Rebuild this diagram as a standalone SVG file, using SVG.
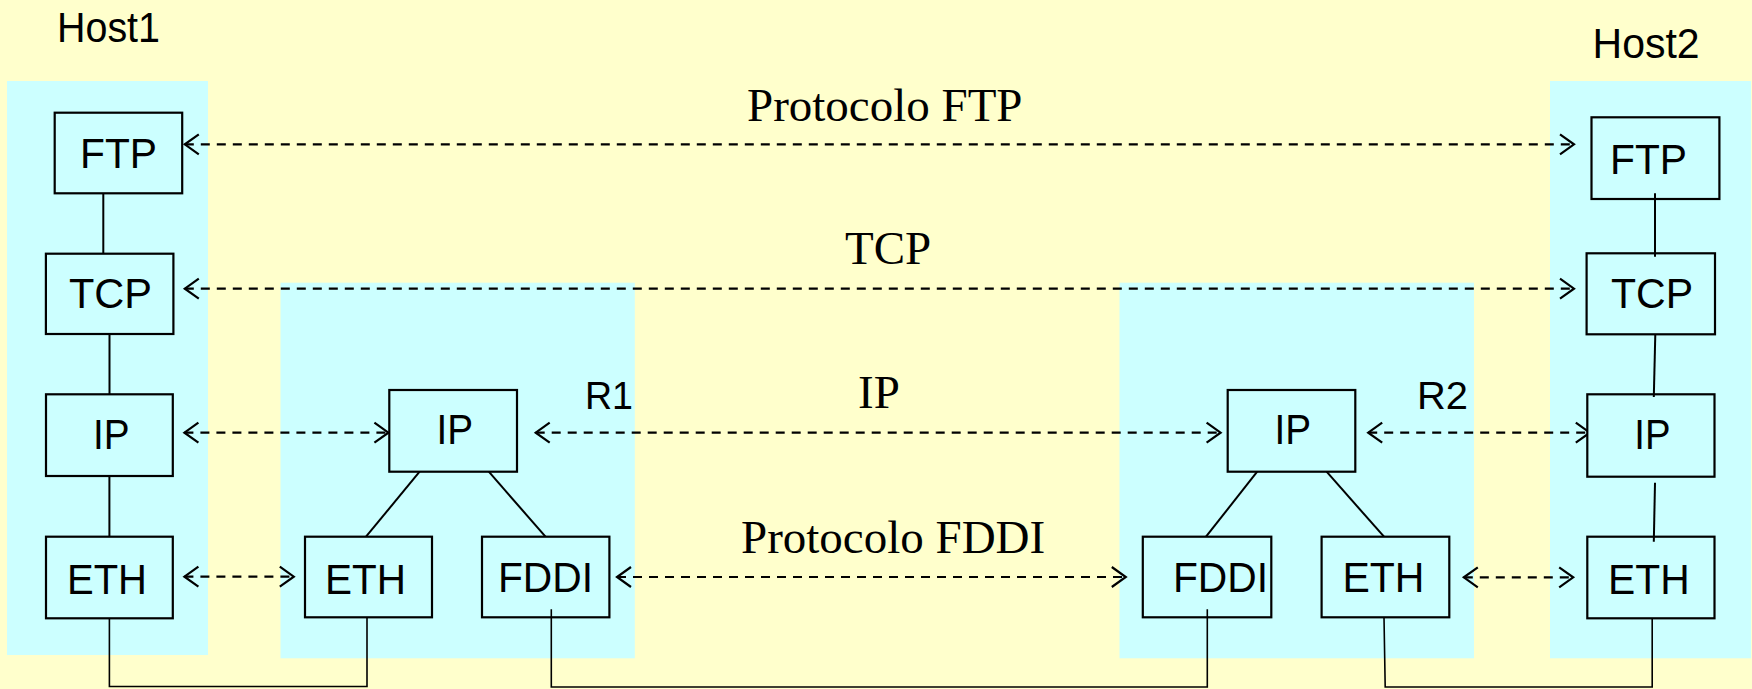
<svg xmlns="http://www.w3.org/2000/svg" width="1752" height="689" viewBox="0 0 1752 689">
<style>
.panel{fill:#CCFFFF;stroke:none}
.box{fill:#CCFFFF;stroke:#000;stroke-width:2.2}
.lbl{font-family:"Liberation Sans",Arial,sans-serif;font-size:42px;fill:#000}
.rl{font-family:"Liberation Sans",Arial,sans-serif;font-size:38px;fill:#000}
.pl{font-family:"Liberation Serif","Times New Roman",serif;font-size:47px;fill:#000}
.ln{fill:none;stroke:#000;stroke-width:2}
.bl{fill:none;stroke:#000;stroke-width:1.6}
.da{fill:none;stroke:#000;stroke-width:2.2;stroke-dasharray:9 7;marker-start:url(#ah);marker-end:url(#ah)}
</style>
<defs>
<marker id="ah" markerUnits="userSpaceOnUse" markerWidth="20" markerHeight="24" refX="0" refY="0" orient="auto-start-reverse" overflow="visible">
<path d="M-14,-10 L0,0 L-14,10" fill="none" stroke="#000" stroke-width="2.2"/>
</marker>
</defs>
<rect x="0" y="0" width="1752" height="689" fill="#FFFFCC"/>
<g id="panels">
<rect class="panel" x="7" y="81" width="201" height="574"/>
<rect class="panel" x="280.5" y="282.7" width="354.3" height="375.6"/>
<rect class="panel" x="1119.5" y="282.7" width="354.5" height="375.6"/>
<rect class="panel" x="1550" y="81" width="201" height="577.3"/>
</g>
<g id="labels">
<text class="lbl" x="57" y="42" textLength="103" lengthAdjust="spacingAndGlyphs">Host1</text>
<text class="lbl" x="1592.6" y="58.3" textLength="107" lengthAdjust="spacingAndGlyphs">Host2</text>
<text class="rl" x="585" y="409" textLength="48" lengthAdjust="spacingAndGlyphs">R1</text>
<text class="rl" x="1417" y="409" textLength="51" lengthAdjust="spacingAndGlyphs">R2</text>
<text class="pl" x="747" y="121">Protocolo FTP</text>
<text class="pl" x="845" y="264.3">TCP</text>
<text class="pl" x="858" y="408.3">IP</text>
<text class="pl" x="741" y="552.7">Protocolo FDDI</text>
</g>
<g id="connectors">
<line class="ln" x1="103.3" y1="193.3" x2="103.3" y2="253.7"/>
<line class="ln" x1="109.5" y1="334" x2="109.5" y2="394.3"/>
<line class="ln" x1="109.4" y1="476" x2="109.4" y2="536.7"/>
<line class="ln" x1="419.6" y1="471.7" x2="366" y2="536.7"/>
<line class="ln" x1="488.8" y1="471.7" x2="545.5" y2="536.7"/>
<line class="ln" x1="1257.2" y1="471.7" x2="1206" y2="536.7"/>
<line class="ln" x1="1326.6" y1="471.7" x2="1384" y2="536.7"/>
<polyline class="bl" points="109.4,618.3 109.4,686.5 367,686.5 367,617.3"/>
<polyline class="bl" points="1384,617.3 1385.2,687 1652.2,687 1652.2,618.3"/>
<path class="da" d="M184.8,144.3 H1574"/>
<path class="da" d="M184.8,288.7 H1574"/>
<path class="da" d="M184.4,432.7 H388.4"/>
<path class="da" d="M535.7,432.7 H1220.6"/>
<path class="da" d="M1368.2,432.7 H1589.8"/>
<path class="da" d="M184.4,576.7 H293.8"/>
<path class="da" d="M617,577 H1125.8"/>
<path class="da" d="M1463.8,577.3 H1573.2"/>
</g>
<g id="host1">
<g id="h1-ftp"><rect class="box" x="54.7" y="112.7" width="127.5" height="80.6"/><text class="lbl" x="80" y="167.7" textLength="77" lengthAdjust="spacingAndGlyphs">FTP</text></g>
<g id="h1-tcp"><rect class="box" x="45.9" y="253.7" width="127.5" height="80.3"/><text class="lbl" x="69" y="308" textLength="83" lengthAdjust="spacingAndGlyphs">TCP</text></g>
<g id="h1-ip"><rect class="box" x="46" y="394.3" width="126.8" height="81.7"/><text class="lbl" x="93" y="449" textLength="36.6" lengthAdjust="spacingAndGlyphs">IP</text></g>
<g id="h1-eth"><rect class="box" x="46" y="536.7" width="126.8" height="81.6"/><text class="lbl" x="67" y="594" textLength="80" lengthAdjust="spacingAndGlyphs">ETH</text></g>
</g>
<g id="r1">
<g id="r1-ip"><rect class="box" x="389.3" y="390" width="127.7" height="81.7"/><text class="lbl" x="436.6" y="444" textLength="36.6" lengthAdjust="spacingAndGlyphs">IP</text></g>
<g id="r1-eth"><rect class="box" x="305" y="536.7" width="127" height="80.6"/><text class="lbl" x="325" y="594" textLength="81" lengthAdjust="spacingAndGlyphs">ETH</text></g>
<g id="r1-fddi"><rect class="box" x="482" y="536.7" width="127.4" height="80.6"/><text class="lbl" x="498" y="591.7" textLength="95" lengthAdjust="spacingAndGlyphs">FDDI</text></g>
</g>
<g id="r2">
<g id="r2-ip"><rect class="box" x="1227.7" y="390" width="127.6" height="81.7"/><text class="lbl" x="1274.6" y="444" textLength="36.6" lengthAdjust="spacingAndGlyphs">IP</text></g>
<g id="r2-fddi"><rect class="box" x="1142.8" y="536.7" width="128.5" height="80.6"/><text class="lbl" x="1173" y="591.7" textLength="95" lengthAdjust="spacingAndGlyphs">FDDI</text></g>
<g id="r2-eth"><rect class="box" x="1321.6" y="536.7" width="127.7" height="80.6"/><text class="lbl" x="1342.4" y="591.7" textLength="82" lengthAdjust="spacingAndGlyphs">ETH</text></g>
</g>
<g id="host2">
<g id="h2-ftp"><rect class="box" x="1591.5" y="117.3" width="127.9" height="81.7"/><text class="lbl" x="1610" y="174.3" textLength="77" lengthAdjust="spacingAndGlyphs">FTP</text></g>
<g id="h2-tcp"><rect class="box" x="1586.6" y="253.3" width="128.4" height="81"/><text class="lbl" x="1611" y="308.3" textLength="82" lengthAdjust="spacingAndGlyphs">TCP</text></g>
<g id="h2-ip"><rect class="box" x="1587.3" y="394.3" width="127.2" height="82.4"/><text class="lbl" x="1634.3" y="449.3" textLength="36.2" lengthAdjust="spacingAndGlyphs">IP</text></g>
<g id="h2-eth"><rect class="box" x="1587.3" y="536.7" width="127.2" height="81.6"/><text class="lbl" x="1608" y="594" textLength="81.6" lengthAdjust="spacingAndGlyphs">ETH</text></g>
</g>
<g id="inner-connectors">
<line class="ln" x1="1655" y1="193.3" x2="1655" y2="256.7"/>
<line class="ln" x1="1655.3" y1="334.3" x2="1653.8" y2="397"/>
<line class="ln" x1="1655" y1="482.7" x2="1653.8" y2="541.7"/>
<polyline class="bl" points="551.3,609.3 551.3,687 1207.3,687 1207.3,609.3"/>
</g>
</svg>
